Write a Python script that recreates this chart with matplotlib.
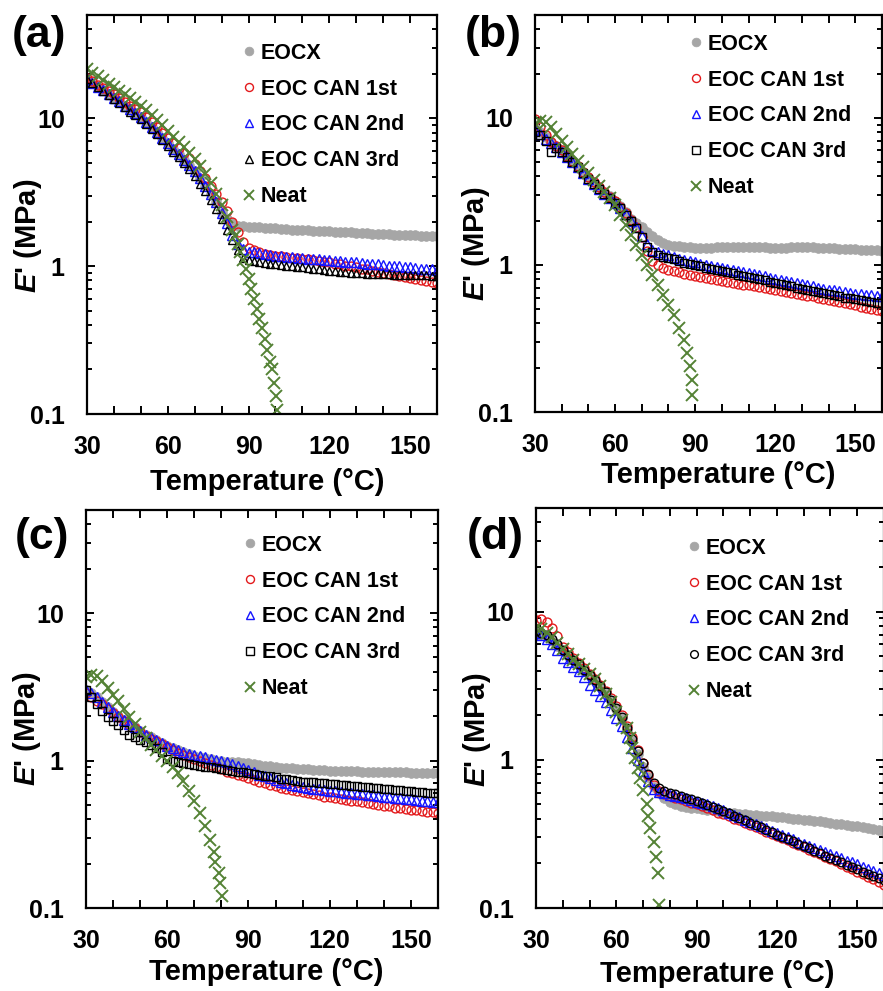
import numpy as np
import matplotlib
matplotlib.use('Agg')
import matplotlib.pyplot as plt
from matplotlib.ticker import MultipleLocator, LogLocator, FixedLocator, NullFormatter, FixedFormatter

plt.rcParams['font.family'] = ['Liberation Sans', 'DejaVu Sans']
plt.rcParams['font.weight'] = 'bold'
plt.rcParams['mathtext.fontset'] = 'custom'
plt.rcParams['mathtext.it'] = 'Liberation Sans:italic:bold'
plt.rcParams['mathtext.rm'] = 'Liberation Sans:bold'

# ---------------- data ----------------
T = list(range(30, 161, 2))  # common temperature grid (°C)

labels = ['EOCX', 'EOC CAN 1st', 'EOC CAN 2nd', 'EOC CAN 3rd', 'Neat']

# Panel (a)
eocx_a = [18.5, 17.4, 16.4, 15.5, 14.6, 13.8, 13.0, 12.2, 11.5, 10.8,
          10.2, 9.5, 8.8, 8.1, 7.4, 6.8, 6.2, 5.7, 5.25, 4.8,
          4.4, 3.95, 3.5, 3.1, 2.7, 2.3, 2.1, 1.95, 1.88, 1.86,
          1.85, 1.84, 1.83, 1.82, 1.81, 1.80, 1.79, 1.78, 1.77, 1.765,
          1.76, 1.75, 1.74, 1.73, 1.725, 1.72, 1.71, 1.70, 1.695, 1.69,
          1.68, 1.67, 1.665, 1.66, 1.655, 1.65, 1.64, 1.635, 1.63, 1.625,
          1.62, 1.615, 1.61, 1.605, 1.60, 1.60]
can1_a = [18.8, 17.8, 16.9, 16.0, 15.2, 14.5, 13.7, 12.9, 12.2, 11.6,
          11.0, 10.2, 9.5, 8.7, 8.0, 7.4, 6.8, 6.3, 5.8, 5.35,
          4.9, 4.4, 3.95, 3.5, 3.1, 2.7, 2.35, 2.0, 1.7, 1.45,
          1.33, 1.28, 1.24, 1.21, 1.19, 1.18, 1.17, 1.15, 1.14, 1.13,
          1.12, 1.11, 1.10, 1.08, 1.07, 1.06, 1.04, 1.03, 1.01, 1.0,
          0.98, 0.96, 0.95, 0.93, 0.92, 0.90, 0.89, 0.87, 0.86, 0.84,
          0.83, 0.82, 0.80, 0.79, 0.78, 0.77]
can2_a = [18.5, 17.4, 16.4, 15.5, 14.6, 13.8, 13.0, 12.2, 11.5, 10.8,
          10.2, 9.5, 8.8, 8.1, 7.4, 6.8, 6.2, 5.7, 5.25, 4.8,
          4.4, 3.95, 3.5, 3.1, 2.7, 2.3, 1.95, 1.62, 1.42, 1.3,
          1.25, 1.24, 1.23, 1.21, 1.19, 1.18, 1.17, 1.16, 1.15, 1.14,
          1.13, 1.12, 1.12, 1.11, 1.10, 1.10, 1.09, 1.08, 1.07, 1.07,
          1.06, 1.05, 1.04, 1.04, 1.03, 1.02, 1.01, 1.0, 1.0, 0.99,
          0.98, 0.97, 0.96, 0.96, 0.95, 0.94]
can3_a = [18.5, 17.3, 16.3, 15.3, 14.4, 13.5, 12.7, 11.9, 11.1, 10.5,
          9.9, 9.2, 8.5, 7.8, 7.1, 6.5, 5.9, 5.45, 5.0, 4.55,
          4.1, 3.6, 3.2, 2.8, 2.45, 2.08, 1.77, 1.5, 1.28, 1.14,
          1.10, 1.08, 1.07, 1.05, 1.04, 1.03, 1.02, 1.01, 1.0, 0.99,
          0.98, 0.97, 0.96, 0.95, 0.94, 0.93, 0.925, 0.92, 0.91, 0.905,
          0.90, 0.895, 0.89, 0.89, 0.885, 0.88, 0.88, 0.875, 0.875, 0.87,
          0.87, 0.87, 0.865, 0.865, 0.86, 0.86]
neat_T_a = [30, 32, 34, 36, 38, 40, 42, 44, 46, 48,
            50, 52, 54, 56, 58, 60, 62, 64, 66, 68,
            70, 72, 74, 76, 78, 80, 82, 84,
            85, 86, 87, 88, 89, 90, 91, 92, 93, 94, 95, 96, 97, 98,
            98.8, 99.4, 100.2, 100.7]
neat_a = [21.6, 20.4, 19.3, 18.3, 17.2, 16.2, 15.3, 14.5, 13.7, 12.9,
          12.2, 11.4, 10.6, 9.8, 9.0, 8.2, 7.5, 6.9, 6.35, 5.8,
          5.3, 4.75, 4.2, 3.65, 3.1, 2.6, 2.15, 1.75,
          1.6, 1.42, 1.25, 1.1, 0.95, 0.82, 0.70, 0.60, 0.51, 0.44, 0.38, 0.32, 0.27, 0.225,
          0.20, 0.163, 0.132, 0.106]

# Panel (b)
eocx_b = [8.5, 8.0, 7.4, 6.9, 6.4, 6.0, 5.5, 5.1, 4.7, 4.3,
          3.95, 3.65, 3.4, 3.15, 2.92, 2.72, 2.5, 2.28, 2.06, 1.92,
          1.8, 1.68, 1.57, 1.47, 1.41, 1.37, 1.35, 1.34, 1.33, 1.32,
          1.31, 1.31, 1.31, 1.31, 1.32, 1.32, 1.32, 1.32, 1.32, 1.32,
          1.32, 1.32, 1.32, 1.32, 1.31, 1.31, 1.31, 1.31, 1.32, 1.32,
          1.32, 1.32, 1.32, 1.31, 1.31, 1.30, 1.30, 1.29, 1.29, 1.28,
          1.28, 1.27, 1.27, 1.26, 1.26, 1.25]
can1_b = [9.8, 8.6, 7.6, 6.9, 6.4, 6.0, 5.5, 5.1, 4.7, 4.3,
          3.95, 3.65, 3.4, 3.15, 2.9, 2.7, 2.48, 2.25, 2.02, 1.8,
          1.55, 1.25, 1.06, 1.0, 0.96, 0.93, 0.91, 0.89, 0.87, 0.855,
          0.84, 0.825, 0.81, 0.80, 0.79, 0.775, 0.765, 0.755, 0.745, 0.735,
          0.725, 0.715, 0.705, 0.695, 0.685, 0.675, 0.665, 0.655, 0.645, 0.635,
          0.625, 0.615, 0.61, 0.60, 0.59, 0.58, 0.57, 0.56, 0.55, 0.54,
          0.53, 0.52, 0.51, 0.505, 0.495, 0.485]
can2_b = [8.2, 7.8, 7.2, 6.7, 6.3, 5.9, 5.4, 5.0, 4.6, 4.2,
          3.85, 3.55, 3.3, 3.05, 2.85, 2.65, 2.45, 2.22, 2.0, 1.8,
          1.58, 1.38, 1.27, 1.22, 1.19, 1.16, 1.13, 1.1, 1.08, 1.06,
          1.04, 1.02, 1.0, 0.985, 0.97, 0.955, 0.94, 0.925, 0.91, 0.895,
          0.88, 0.865, 0.85, 0.835, 0.82, 0.805, 0.79, 0.78, 0.765, 0.75,
          0.74, 0.725, 0.715, 0.70, 0.69, 0.68, 0.67, 0.66, 0.65, 0.64,
          0.635, 0.63, 0.625, 0.62, 0.615, 0.61]
can3_b = [8.0, 7.6, 7.0, 5.9, 6.2, 5.9, 5.4, 5.0, 4.6, 4.2,
          3.85, 3.55, 3.3, 3.05, 2.85, 2.65, 2.45, 2.2, 2.0, 1.78,
          1.55, 1.32, 1.22, 1.17, 1.14, 1.11, 1.09, 1.06, 1.03, 1.01,
          1.0, 0.98, 0.96, 0.94, 0.92, 0.91, 0.89, 0.875, 0.86, 0.845,
          0.83, 0.815, 0.80, 0.785, 0.77, 0.755, 0.74, 0.73, 0.715, 0.70,
          0.69, 0.68, 0.665, 0.655, 0.645, 0.635, 0.625, 0.61, 0.60, 0.595,
          0.585, 0.575, 0.57, 0.56, 0.555, 0.55]
neat_T_b = [30, 32, 34, 36, 38, 40, 42, 44, 46, 48,
            50, 52, 54, 56, 58, 60, 62, 64, 66, 68,
            70, 72, 74, 76, 78, 80, 82, 84, 86,
            87.1, 88.1, 88.7, 89.0]
neat_b = [9.1, 9.5, 9.3, 8.6, 7.8, 7.0, 6.3, 5.7, 5.1, 4.6,
          4.2, 3.8, 3.45, 3.15, 2.85, 2.57, 2.2, 1.87, 1.6, 1.37,
          1.17, 1.0, 0.86, 0.73, 0.62, 0.53, 0.455, 0.37, 0.31,
          0.25, 0.205, 0.166, 0.13]

# Panel (c)
eocx_c = [3.0, 2.85, 2.7, 2.5, 2.3, 2.15, 2.0, 1.88, 1.78, 1.68,
          1.58, 1.5, 1.44, 1.38, 1.32, 1.26, 1.22, 1.18, 1.14, 1.11,
          1.08, 1.06, 1.04, 1.02, 1.0, 0.99, 0.985, 0.98, 0.975, 0.965,
          0.955, 0.945, 0.935, 0.925, 0.915, 0.905, 0.895, 0.89, 0.885, 0.88,
          0.875, 0.87, 0.865, 0.86, 0.86, 0.855, 0.855, 0.85, 0.85, 0.845,
          0.845, 0.84, 0.84, 0.84, 0.835, 0.835, 0.835, 0.83, 0.83, 0.83,
          0.825, 0.825, 0.825, 0.82, 0.82, 0.82]
can1_c = [2.85, 2.7, 2.55, 2.4, 2.25, 2.1, 1.97, 1.85, 1.75, 1.65,
          1.55, 1.47, 1.41, 1.35, 1.29, 1.23, 1.18, 1.13, 1.09, 1.05,
          1.02, 0.99, 0.96, 0.93, 0.90, 0.87, 0.84, 0.82, 0.80, 0.78,
          0.76, 0.74, 0.72, 0.70, 0.685, 0.67, 0.655, 0.64, 0.63, 0.62,
          0.61, 0.60, 0.59, 0.58, 0.57, 0.565, 0.555, 0.55, 0.54, 0.535,
          0.53, 0.52, 0.515, 0.51, 0.50, 0.495, 0.49, 0.48, 0.475, 0.47,
          0.465, 0.46, 0.455, 0.45, 0.445, 0.44]
can2_c = [3.0, 2.85, 2.7, 2.5, 2.3, 2.15, 2.0, 1.88, 1.78, 1.68,
          1.58, 1.5, 1.44, 1.38, 1.32, 1.26, 1.22, 1.18, 1.14, 1.11,
          1.09, 1.07, 1.05, 1.03, 1.01, 0.99, 0.97, 0.95, 0.92, 0.89,
          0.86, 0.83, 0.80, 0.78, 0.76, 0.74, 0.72, 0.70, 0.685, 0.675,
          0.665, 0.655, 0.645, 0.64, 0.63, 0.625, 0.62, 0.61, 0.605, 0.60,
          0.595, 0.59, 0.585, 0.58, 0.575, 0.57, 0.565, 0.56, 0.555, 0.55,
          0.545, 0.54, 0.535, 0.53, 0.525, 0.52]
can3_c = [3.0, 2.7, 2.42, 2.18, 1.98, 1.85, 1.75, 1.62, 1.5, 1.44,
          1.38, 1.33, 1.28, 1.22, 1.15, 1.02, 1.0, 0.98, 0.96, 0.945,
          0.93, 0.92, 0.91, 0.90, 0.89, 0.875, 0.865, 0.85, 0.84, 0.83,
          0.82, 0.81, 0.80, 0.79, 0.78, 0.77, 0.755, 0.745, 0.74, 0.73,
          0.72, 0.715, 0.71, 0.705, 0.70, 0.695, 0.69, 0.685, 0.68, 0.675,
          0.67, 0.665, 0.66, 0.655, 0.65, 0.645, 0.64, 0.635, 0.63, 0.625,
          0.62, 0.615, 0.61, 0.605, 0.60, 0.60]
neat_T_c = [30, 32, 34, 36, 38, 40, 42, 44, 46, 48,
            50, 52, 54, 56, 58, 60, 62, 64, 66, 68,
            70, 72, 74,
            75.9, 77.1, 77.8, 79.0, 79.6, 80.2]
neat_c = [3.68, 3.78, 3.75, 3.45, 3.1, 2.8, 2.52, 2.22, 1.98, 1.76,
          1.57, 1.42, 1.28, 1.17, 1.08, 1.0, 0.91, 0.82, 0.73, 0.62,
          0.53, 0.44, 0.36,
          0.29, 0.24, 0.206, 0.172, 0.148, 0.12]

# Panel (d)
eocx_d = [7.0, 6.9, 6.7, 6.35, 5.9, 5.45, 5.05, 4.7, 4.35, 4.0,
          3.7, 3.4, 3.1, 2.8, 2.5, 2.2, 1.9, 1.6, 1.33, 1.1,
          0.9, 0.76, 0.66, 0.6, 0.55, 0.52, 0.5, 0.49, 0.48, 0.475,
          0.47, 0.465, 0.46, 0.455, 0.45, 0.445, 0.44, 0.435, 0.43, 0.43,
          0.425, 0.425, 0.42, 0.42, 0.415, 0.41, 0.41, 0.405, 0.40, 0.40,
          0.395, 0.39, 0.385, 0.385, 0.38, 0.375, 0.37, 0.37, 0.365, 0.36,
          0.355, 0.35, 0.345, 0.34, 0.335, 0.33]
can1_d = [8.8, 8.9, 8.5, 7.8, 6.8, 5.8, 5.3, 4.9, 4.5, 4.15,
          3.8, 3.5, 3.2, 2.9, 2.6, 2.3, 2.0, 1.7, 1.42, 1.17,
          0.95, 0.79, 0.68, 0.62, 0.59, 0.57, 0.555, 0.54, 0.525, 0.51,
          0.50, 0.485, 0.47, 0.455, 0.44, 0.43, 0.415, 0.40, 0.39, 0.375,
          0.365, 0.352, 0.34, 0.328, 0.317, 0.306, 0.296, 0.286, 0.276, 0.266,
          0.257, 0.248, 0.24, 0.231, 0.222, 0.214, 0.206, 0.198, 0.19, 0.183,
          0.176, 0.169, 0.162, 0.156, 0.149, 0.143]
can2_d = [7.2, 6.9, 6.5, 6.0, 5.5, 4.9, 4.55, 4.25, 3.95, 3.6,
          3.2, 2.95, 2.7, 2.45, 2.18, 1.91, 1.68, 1.42, 1.2, 1.0,
          0.84, 0.72, 0.64, 0.61, 0.595, 0.58, 0.57, 0.56, 0.55, 0.535,
          0.52, 0.51, 0.50, 0.485, 0.47, 0.455, 0.44, 0.425, 0.41, 0.395,
          0.38, 0.368, 0.356, 0.344, 0.332, 0.32, 0.31, 0.30, 0.29, 0.28,
          0.27, 0.262, 0.254, 0.246, 0.238, 0.23, 0.223, 0.216, 0.209, 0.203,
          0.197, 0.19, 0.184, 0.178, 0.172, 0.166]
can3_d = [7.4, 7.2, 6.9, 6.5, 6.0, 5.5, 5.1, 4.75, 4.4, 4.05,
          3.75, 3.45, 3.15, 2.85, 2.55, 2.25, 1.95, 1.65, 1.38, 1.15,
          0.95, 0.8, 0.7, 0.65, 0.62, 0.6, 0.585, 0.57, 0.555, 0.54,
          0.525, 0.51, 0.495, 0.48, 0.465, 0.45, 0.435, 0.42, 0.405, 0.39,
          0.375, 0.362, 0.35, 0.338, 0.325, 0.313, 0.302, 0.292, 0.282, 0.272,
          0.262, 0.253, 0.244, 0.235, 0.226, 0.218, 0.21, 0.203, 0.196, 0.189,
          0.182, 0.176, 0.17, 0.164, 0.159, 0.154]
neat_T_d = [30, 32, 34, 36, 38, 40, 42, 44, 46, 48,
            50, 52, 54, 56, 58, 60, 62,
            63.9, 65, 66, 67, 68, 68.9, 70, 71.4, 72.0, 72.6, 73.9, 74.9, 75.4, 75.8]
neat_d = [7.8, 7.6, 7.2, 6.7, 6.1, 5.6, 5.15, 4.75, 4.4, 4.1,
          3.8, 3.5, 3.15, 2.8, 2.45, 2.1, 1.85,
          1.64, 1.4, 1.2, 1.03, 0.88, 0.75, 0.63, 0.5, 0.42, 0.345, 0.28, 0.222, 0.172, 0.105]

panel_tags = ['(a)', '(b)', '(c)', '(d)']
third_markers = ['^', 's', 's', 'o']

# ---------------- layout (pixels) ----------------
W, H = 883, 991
fig = plt.figure(figsize=(W / 100, H / 100), dpi=100)

boxes = [(87, 437, 15, 414), (535, 882, 15, 412), (86, 438, 510, 908), (536, 884, 508, 908)]
legend_px = [(249, 52), (696, 43), (250, 544), (694, 547)]
xlabel_px = [(267.5, 467.5), (718.5, 461.5), (266.5, 957.5), (717.5, 959.5)]
ylabel_px = [(44, 236), (492, 244), (43, 729), (493, 730)]
tag_px = [(12, 36), (465, 36), (15, 538), (467, 537)]

panels = [
    (eocx_a, can1_a, can2_a, can3_a, neat_T_a, neat_a),
    (eocx_b, can1_b, can2_b, can3_b, neat_T_b, neat_b),
    (eocx_c, can1_c, can2_c, can3_c, neat_T_c, neat_c),
    (eocx_d, can1_d, can2_d, can3_d, neat_T_d, neat_d),
]

C_GRAY = '#A6A6A6'
C_RED = '#E31A1C'
C_BLUE = '#1414FF'
C_GREEN = '#548235'

FS_LEG = 15.5
MSCALE = 0.9
for i, (l, r, t, b) in enumerate(boxes):
    ax = fig.add_axes([l / W, 1 - b / H, (r - l) / W, (b - t) / H])
    pw, ph = r - l, b - t

    def to_ax(px, py):
        return (px - l) / pw, (b - py) / ph

    eocx, c1, c2, c3, nT, nE = panels[i]
    m3 = third_markers[i]
    h0, = ax.plot(T, eocx, ls='none', marker='o', color=C_GRAY, mfc=C_GRAY, mec=C_GRAY, ms=7, mew=0.5)
    h1, = ax.plot(T, c1, ls='none', marker='o', mfc='none', mec=C_RED, ms=6.4, mew=1.0)
    h2, = ax.plot(T, c2, ls='none', marker='^', mfc='none', mec=C_BLUE, ms=6.8, mew=1.0)
    h3, = ax.plot(T, c3, ls='none', marker=m3, mfc='none', mec='black',
                  ms=6.2 if m3 != 's' else 5.8, mew=1.0)
    h4, = ax.plot(nT, nE, ls='none', marker='x', color=C_GREEN, mec=C_GREEN, ms=8, mew=1.4)

    ax.set_yscale('log')
    ax.set_ylim(0.1, 50)
    ax.set_xlim(30, 160)
    ax.yaxis.set_major_locator(FixedLocator([0.1, 1, 10]))
    ax.yaxis.set_major_formatter(FixedFormatter(['0.1', '1', '10']))
    ax.yaxis.set_minor_locator(LogLocator(base=10, subs=np.arange(2, 10)))
    ax.yaxis.set_minor_formatter(NullFormatter())
    ax.xaxis.set_major_locator(MultipleLocator(30))
    ax.xaxis.set_minor_locator(MultipleLocator(10))

    for s in ax.spines.values():
        s.set_linewidth(1.6)
    ax.tick_params(axis='both', which='both', direction='in', top=True, right=True,
                   width=1.4, labelsize=18)
    ax.tick_params(axis='y', which='major', length=6, pad=16)
    ax.tick_params(axis='y', which='minor', length=3.5)
    ax.tick_params(axis='x', which='both', length=5.5, pad=15)

    ax.set_xlabel('Temperature (°C)', fontsize=21, fontweight='bold')
    ax.xaxis.set_label_coords(*to_ax(*xlabel_px[i]))
    ax.set_ylabel(r"$E$' (MPa)", fontsize=21, fontweight='bold')
    ax.yaxis.set_label_coords(*to_ax(*ylabel_px[i]))

    mx, my = legend_px[i]
    fpx = FS_LEG * 100 / 72
    anchor = to_ax(mx - 0.4 * fpx, my - 0.62 * fpx + 4)
    ax.legend([h0, h1, h2, h3, h4], labels, loc='upper left', bbox_to_anchor=anchor,
              bbox_transform=ax.transAxes, frameon=False, borderpad=0, borderaxespad=0,
              handlelength=0.8, handletextpad=0.16, labelspacing=0.69,
              fontsize=FS_LEG, numpoints=1, markerscale=MSCALE)

    tx, ty = tag_px[i]
    fig.text(tx / W, 1 - ty / H, panel_tags[i], fontsize=32, fontweight='bold',
             ha='left', va='center')

fig.savefig('out.png', dpi=100)
